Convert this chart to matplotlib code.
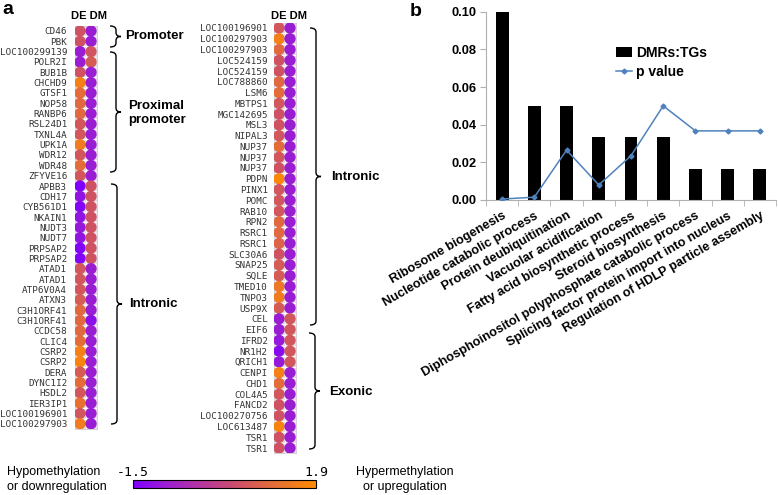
import numpy as np
import matplotlib
matplotlib.use('Agg')
import matplotlib.pyplot as plt
from matplotlib.colors import LinearSegmentedColormap, Normalize
from matplotlib.cm import ScalarMappable
from matplotlib.path import Path
from matplotlib.patches import PathPatch

plt.rcParams['font.family'] = ['Liberation Sans', 'DejaVu Sans']

# panel a, left column: genes with DE / DM values
genes_left = ['CD46', 'PBK', 'LOC100299139', 'POLR2I', 'BUB1B', 'CHCHD9', 'GTSF1',
              'NOP58', 'RANBP6', 'RSL24D1', 'TXNL4A', 'UPK1A', 'WDR12', 'WDR48',
              'ZFYVE16', 'APBB3', 'CDH17', 'CYB561D1', 'NKAIN1', 'NUDT3', 'NUDT7',
              'PRPSAP2', 'PRPSAP2', 'ATAD1', 'ATAD1', 'ATP6V0A4', 'ATXN3',
              'C3H1ORF41', 'C3H1ORF41', 'CCDC58', 'CLIC4', 'CSRP2', 'CSRP2', 'DERA',
              'DYNC1I2', 'HSDL2', 'IER3IP1', 'LOC100196901', 'LOC100297903']
de_left = [0.5, 0.5, -0.9, -0.9, 0.5, 1.6, 1.1, 1.0, 1.0, 0.6, 0.6, 1.5, 0.6, 1.1,
           0.6, -1.5, -1.1, -1.4, -1.1, -1.0, -1.1, -1.4, -1.4, 0.6, 0.6, 0.6, 0.7,
           1.0, 1.0, 1.0, 1.1, 1.6, 1.7, 0.7, 1.1, 0.6, 1.2, 0.6, 1.5]
dm_left = [-0.9, -0.9, 0.55, 0.7, -0.9, -0.9, -0.9, -0.9, -0.9, -0.9, -0.9, -0.9,
           -0.9, -0.9, -0.9, 0.5, 0.5, 0.5, 0.5, 0.5, 0.5, 0.5, 0.5, -0.9, -0.9,
           -0.9, -0.9, -0.9, -1.2, -0.9, -0.9, -0.9, -0.9, -0.9, -0.9, -0.9, -0.9,
           -0.9, -0.9]

# panel a, right column
genes_right = ['LOC100196901', 'LOC100297903', 'LOC100297903', 'LOC524159',
               'LOC524159', 'LOC788860', 'LSM6', 'MBTPS1', 'MGC142695', 'MSL3',
               'NIPAL3', 'NUP37', 'NUP37', 'NUP37', 'PDPN', 'PINX1', 'POMC', 'RAB10',
               'RPN2', 'RSRC1', 'RSRC1', 'SLC30A6', 'SNAP25', 'SQLE', 'TMED10',
               'TNPO3', 'USP9X', 'CEL', 'EIF6', 'IFRD2', 'NR1H2', 'QRICH1', 'CENPI',
               'CHD1', 'COL4A5', 'FANCD2', 'LOC100270756', 'LOC613487', 'TSR1', 'TSR1']
de_right = [0.6, 1.6, 1.0, 0.5, 0.5, 1.0, 1.1, 0.6, 0.5, 0.5, 0.6, 1.1, 0.6, 0.5,
            1.8, 0.6, 0.6, 0.6, 1.0, 1.0, 0.9, 0.5, 0.7, 0.7, 1.4, 1.5, 0.7, -0.9,
            -0.9, -1.0, -1.3, -1.0, 1.6, 1.1, 0.6, 0.5, 0.5, 1.7, 0.5, 0.5]
dm_right = [-0.9] * 27 + [0.6, 0.6, 0.6, 0.6, 0.6] + [-0.9] * 8

# panel b
terms = ['Ribosome biogenesis', 'Nucleotide catabolic process',
         'Protein deubiquitination', 'Vacuolar acidification',
         'Fatty acid biosynthetic process', 'Steroid biosynthesis',
         'Diphosphoinositol polyphosphate catabolic process',
         'Splicing factor protein import into nucleus',
         'Regulation of HDLP particle assembly']
ratio = [0.1, 0.05, 0.05, 0.0333, 0.0333, 0.0333, 0.0167, 0.0167, 0.0167]
pvals = [0.0005, 0.0015, 0.0265, 0.008, 0.0235, 0.05, 0.0367, 0.0367, 0.0367]

W, H = 778, 495
cmap = LinearSegmentedColormap.from_list(
    'pm', [(0, '#7f00ff'), (0.18, '#9c1ed2'), (0.59, '#cf5263'),
           (0.74, '#e0693f'), (1.0, '#ff8c00')])
norm = Normalize(-1.5, 1.9)


def box(x0, y0, x1, y1):
    return [x0 / W, 1 - y1 / H, (x1 - x0) / W, (y1 - y0) / H]


fig = plt.figure(figsize=(W / 100, H / 100), dpi=100)

# overlay for labels and braces (pixel coords)
ov = fig.add_axes([0, 0, 1, 1])
ov.set_xlim(0, W)
ov.set_ylim(H, 0)
ov.axis('off')


def brace(x, y0, y1, w=6, tip=5):
    ym = (y0 + y1) / 2
    verts = [(x - w, y0), (x, y0), (x, y0 + 4), (x, ym - 4), (x, ym), (x + tip, ym),
             (x, ym), (x, ym + 4), (x, y1 - 4), (x, y1), (x - w, y1)]
    codes = [Path.MOVETO, Path.CURVE3, Path.CURVE3, Path.LINETO, Path.CURVE3,
             Path.CURVE3, Path.CURVE3, Path.CURVE3, Path.LINETO, Path.CURVE3,
             Path.CURVE3]
    ov.add_patch(PathPatch(Path(verts, codes), fill=False, lw=1.0, color='black'))


def dot_panel(rect, genes, de, dm, pad):
    ax = fig.add_axes(box(*rect))
    n = len(genes)
    y = np.arange(n)
    ax.scatter(np.zeros(n), y, c=de, cmap=cmap, norm=norm, s=66, linewidths=0, zorder=3)
    ax.scatter(np.ones(n), y, c=dm, cmap=cmap, norm=norm, s=66, linewidths=0, zorder=3)
    ax.set_xlim(-0.5, 1.5)
    ax.set_ylim(n - 0.5, -0.5)
    ax.set_xticks([])
    ax.set_yticks(y)
    ax.set_yticklabels(genes, family='DejaVu Sans Mono', fontsize=6.7, color='#333333')
    ax.tick_params(axis='y', length=0, pad=pad)
    ax.set_yticks(np.arange(-0.5, n, 1), minor=True)
    ax.set_xticks([0.5], minor=True)
    ax.tick_params(which='minor', length=0)
    ax.grid(which='minor', color='white', lw=0.7)
    ax.set_facecolor('#e4dce4')
    for s in ax.spines.values():
        s.set_color('#d0c8d0')
        s.set_linewidth(0.6)
    return ax


dot_panel((74.5, 25.8, 96.5, 428.9), genes_left, de_left, dm_left, 5.2)
dot_panel((273.5, 22.6, 295.5, 453.4), genes_right, de_right, dm_right, 4.0)

ov.text(89, 16, 'DE DM', fontsize=8, fontweight='bold', ha='center', va='center')
ov.text(289, 16, 'DE DM', fontsize=8, fontweight='bold', ha='center', va='center')
ov.text(8, 10, 'a', fontsize=14, fontweight='bold', ha='center', va='center')
ov.text(416, 12, 'b', fontsize=14, fontweight='bold', ha='center', va='center')

brace(116, 26, 47)
ov.text(125, 36, 'Promoter', fontsize=9.5, fontweight='bold', va='center')
brace(116, 52, 172)
ov.text(128, 113, 'Proximal\npromoter', fontsize=9.5, fontweight='bold', va='center',
        linespacing=1.3)
brace(117, 184, 424)
ov.text(129, 304, 'Intronic', fontsize=9.5, fontweight='bold', va='center')
brace(316, 28, 325)
ov.text(331, 177, 'Intronic', fontsize=9.5, fontweight='bold', va='center')
brace(315, 333, 449)
ov.text(329, 392, 'Exonic', fontsize=9.5, fontweight='bold', va='center')

# colorbar
cax = fig.add_axes(box(133, 480, 316, 488))
cb = fig.colorbar(ScalarMappable(norm=norm, cmap=cmap), cax=cax, orientation='horizontal')
cb.set_ticks([-1.5, 1.9])
cb.set_ticklabels(['-1.5', '1.9'])
cax.xaxis.set_ticks_position('top')
cax.tick_params(length=0, pad=1, labelsize=9.5)
for t in cax.get_xticklabels():
    t.set_family('DejaVu Sans Mono')
cb.outline.set_linewidth(0.8)

ov.text(7, 472, 'Hypomethylation', fontsize=9, va='center')
ov.text(7, 487, 'or downregulation', fontsize=9, va='center')
ov.text(405, 472, 'Hypermethylation', fontsize=9, va='center', ha='center')
ov.text(405, 487, 'or upregulation', fontsize=9, va='center', ha='center')

# panel b
ax = fig.add_axes(box(486, 11.7, 776, 200))
x = np.arange(len(terms))
bars = ax.bar(x, ratio, width=0.4, color='black', label='DMRs:TGs', zorder=2)
line, = ax.plot(x, pvals, color='#4f81bd', lw=1.1, marker='D', ms=2.5,
                label='p value', zorder=3)
ax.set_xlim(-0.5, len(terms) - 0.5)
ax.set_ylim(0, 0.1)
yt = np.arange(0, 0.101, 0.02)
ax.set_yticks(yt)
ax.set_yticklabels([f'{v:.2f}' for v in yt], fontsize=9.3, fontweight='bold')
ax.set_xticks(x)
ax.set_xticklabels(terms, rotation=30, ha='right', rotation_mode='anchor',
                   fontsize=9.2, fontweight='bold')
ax.tick_params(axis='x', length=0, pad=7)
ax.set_xticks(np.arange(-0.5, len(terms), 1), minor=True)
ax.tick_params(axis='x', which='minor', length=4, color='#b0b0b0')
ax.tick_params(axis='y', length=4, color='#b0b0b0', pad=3)
for s in ['top', 'right']:
    ax.spines[s].set_visible(False)
for s in ['left', 'bottom']:
    ax.spines[s].set_color('#b0b0b0')
ax.legend([bars, line], ['DMRs:TGs', 'p value'], loc='upper left',
          bbox_to_anchor=(0.43, 0.85), frameon=False,
          prop={'weight': 'bold', 'size': 10}, handlelength=1.1, handletextpad=0.3,
          labelspacing=0.4, borderaxespad=0)

fig.savefig('out.png', dpi=100)
